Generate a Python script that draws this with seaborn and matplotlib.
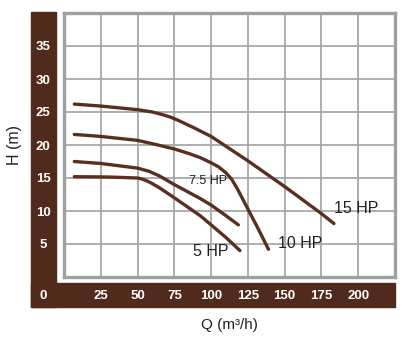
import matplotlib
matplotlib.use("Agg")
import matplotlib.pyplot as plt
from matplotlib.patches import Rectangle
import seaborn as sns
import pandas as pd

# Pump performance curves: flow Q (m³/h) vs head H (m)
q_5hp = [7, 30, 50, 53, 56, 60, 65, 75, 92.5, 100, 110, 119.6]
h_5hp = [15.2, 15.15, 15.0, 14.85, 14.6, 14.15, 13.5, 12.0, 9.3, 7.9, 6.0, 4.0]

q_75hp = [7, 25, 50, 58, 65, 75, 85, 92.5, 100, 110, 118.5]
h_75hp = [17.5, 17.2, 16.5, 16.0, 15.3, 14.0, 12.8, 11.9, 10.9, 9.3, 7.9]

q_10hp = [7, 25, 50, 62, 75, 85, 92.5, 100, 105, 110, 114, 118, 125, 132, 139]
h_10hp = [21.6, 21.3, 20.7, 20.1, 19.4, 18.7, 18.1, 17.3, 16.7, 15.8, 14.8, 13.3, 10.3, 7.3, 4.2]

q_15hp = [7, 25, 50, 60, 67, 72, 77, 87.5, 100, 125, 150, 175, 183.5]
h_15hp = [26.2, 25.9, 25.35, 25.0, 24.6, 24.25, 23.8, 22.7, 21.3, 17.6, 13.7, 9.6, 8.1]

curve_labels = ["5 HP", "7.5 HP", "10 HP", "15 HP"]
x_ticks = [25, 50, 75, 100, 125, 150, 175, 200]
y_ticks = [5, 10, 15, 20, 25, 30, 35]

df = pd.concat([
    pd.DataFrame({"Q": q, "H": h, "pump": name})
    for q, h, name in zip([q_5hp, q_75hp, q_10hp, q_15hp],
                          [h_5hp, h_75hp, h_10hp, h_15hp],
                          curve_labels)
])

sns.set_theme(style="white")
plt.rcParams["font.family"] = ["Liberation Sans", "DejaVu Sans"]

BROWN = "#4f2a1d"
LINE = "#5a2f1f"
GRID = "#a8a8a8"
TEXT = "#1f1f28"

W, H = 419, 350
fig = plt.figure(figsize=(W / 100, H / 100), dpi=100)
ax = fig.add_axes([64 / W, 1 - 277 / H, 331 / W, 264 / H])

# brown frame bands along the left and bottom
fig.patches.append(Rectangle((31 / W, 1 - 307 / H), 25 / W, 295 / H,
                             transform=fig.transFigure, color=BROWN, zorder=-1))
fig.patches.append(Rectangle((31 / W, 1 - 307 / H), 364 / W, 24 / H,
                             transform=fig.transFigure, color=BROWN, zorder=-1))

for name in curve_labels:
    sub = df[df["pump"] == name]
    sns.lineplot(data=sub, x="Q", y="H", ax=ax, color=LINE, lw=2.4,
                 solid_capstyle="round", solid_joinstyle="round",
                 legend=False, zorder=3)

ax.set_xlim(0, 225)
ax.set_ylim(0, 40)
ax.set_xticks(range(0, 226, 25), minor=True)
ax.set_yticks(range(0, 41, 5), minor=True)
ax.set_xticks(x_ticks)
ax.set_yticks(y_ticks)
ax.set_xticklabels([str(v) for v in x_ticks])
ax.set_yticklabels([str(v) for v in y_ticks])
ax.grid(True, which="both", color=GRID, lw=1.3)
ax.set_axisbelow(True)
for s in ax.spines.values():
    s.set_visible(True)
    s.set_color("#a0a0a0")
    s.set_linewidth(2.4)

ax.tick_params(axis="both", which="both", length=0)
ax.tick_params(axis="y", pad=15.1, labelsize=9.5, labelcolor="white")
ax.tick_params(axis="x", pad=13.7, labelsize=9.5, labelcolor="white")
for t in ax.get_yticklabels():
    t.set_ha("center")
    t.set_fontweight("bold")
for t in ax.get_xticklabels():
    t.set_va("center")
    t.set_fontweight("bold")

fig.text(43 / W, 1 - 296 / H, "0", color="white", fontsize=9.5,
         fontweight="bold", ha="center", va="center")

ax.set_xlabel("")
ax.set_ylabel("")
fig.text(229 / W, 1 - 325 / H, "Q (m³/h)", color=TEXT, fontsize=11,
         ha="center", va="center")
fig.text(14 / W, 1 - 145 / H, "H (m)", color=TEXT, fontsize=11.5,
         ha="center", va="center", rotation=90)

# curve annotations
ax.text(183.5, 10.4, "15 HP", fontsize=11.5, color=TEXT, ha="left", va="center", zorder=4)
ax.text(145.3, 5.15, "10 HP", fontsize=11.5, color=TEXT, ha="left", va="center", zorder=4)
ax.text(87.9, 3.9, "5 HP", fontsize=11.5, color=TEXT, ha="left", va="center", zorder=4)
ax.text(85.2, 14.5, "7.5 HP", fontsize=9, color=TEXT, ha="left", va="center", zorder=4)

fig.savefig("out.png", dpi=100)
